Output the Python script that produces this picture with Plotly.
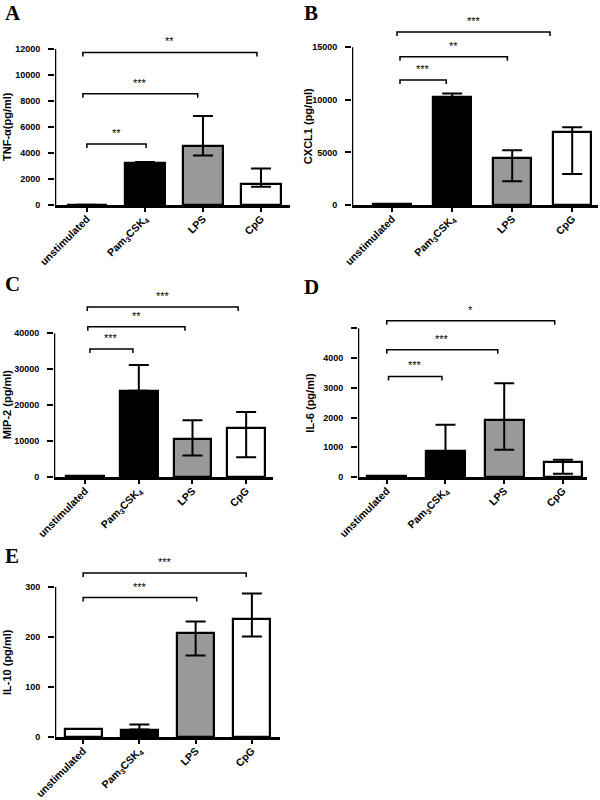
import plotly.graph_objects as go

# ---------------- data ----------------
categories = ["unstimulated", "Pam<sub>3</sub>CSK<sub>4</sub>", "LPS", "CpG"]
bar_colors = ["white", "black", "#999999", "white"]

# A: TNF-alpha
tnf_mean = [20, 3200, 4550, 1650]
tnf_upper = [20, 3300, 6850, 2800]
tnf_lower = [20, 3200, 3800, 1400]
tnf_ticks = [0, 2000, 4000, 6000, 8000, 10000, 12000]
tnf_sig = [(0.0, 1.02, 4690, "**"), (-0.07, 1.91, 8560, "***"), (-0.07, 2.93, 11740, "**")]

# B: CXCL1
cxcl1_mean = [90, 10250, 4500, 6950]
cxcl1_upper = [90, 10600, 5200, 7400]
cxcl1_lower = [90, 10250, 2250, 2950]
cxcl1_ticks = [0, 5000, 10000, 15000]
cxcl1_sig = [(0.13, 0.9, 11890, "***"), (0.13, 1.92, 14100, "**"), (0.08, 2.63, 16460, "***")]

# C: MIP-2
mip2_mean = [150, 24000, 10600, 13600]
mip2_upper = [150, 31200, 15800, 18100]
mip2_lower = [150, 24000, 6000, 5500]
mip2_ticks = [0, 10000, 20000, 30000, 40000]
mip2_sig = [(0.09, 0.89, 35600, "***"), (0.05, 1.86, 41800, "**"), (0.04, 2.85, 47300, "***")]

# D: IL-6
il6_mean = [25, 860, 1900, 500]
il6_upper = [25, 1760, 3150, 580]
il6_lower = [25, 860, 920, 110]
il6_ticks = [0, 1000, 2000, 3000, 4000, 5000]
il6_ticklabels = ["0", "1000", "2000", "3000", "4000", ""]
il6_sig = [(0.03, 0.94, 3380, "***"), (0.0, 1.89, 4280, "***"), (0.0, 2.86, 5250, "*")]

# E: IL-10
il10_mean = [16, 15, 208, 236]
il10_upper = [16, 25, 231, 287]
il10_lower = [16, 15, 163, 201]
il10_ticks = [0, 100, 200, 300]
il10_sig = [(0.0, 2.02, 279, "***"), (0.0, 2.9, 328, "***")]

# ---------------- layout per panel ----------------
panels = [
    dict(letter="A", ytitle="TNF-α(pg/ml)", mean=tnf_mean, up=tnf_upper, lo=tnf_lower,
         ticks=tnf_ticks, ticktext=[str(t) for t in tnf_ticks], sig=tnf_sig,
         left=55, right=290, zero=205, top=28, ppu=156 / 12000, xr=[-0.55, 3.5], bw=0.70,
         tx=7, lx=3, ly=-1),
    dict(letter="B", ytitle="CXCL1 (pg/ml)", mean=cxcl1_mean, up=cxcl1_upper, lo=cxcl1_lower,
         ticks=cxcl1_ticks, ticktext=[str(t) for t in cxcl1_ticks], sig=cxcl1_sig,
         left=352, right=598, zero=205, top=22, ppu=157.7 / 15000, xr=[-0.67, 3.43], bw=0.64,
         tx=308, lx=302, ly=-1),
    dict(letter="C", ytitle="MIP-2 (pg/ml)", mean=mip2_mean, up=mip2_upper, lo=mip2_lower,
         ticks=mip2_ticks, ticktext=[str(t) for t in mip2_ticks], sig=mip2_sig,
         left=54, right=273, zero=477, top=285, ppu=143.7 / 40000, xr=[-0.58, 3.5], bw=0.70,
         tx=7, lx=3, ly=270),
    dict(letter="D", ytitle="IL-6 (pg/ml)", mean=il6_mean, up=il6_upper, lo=il6_lower,
         ticks=il6_ticks, ticktext=il6_ticklabels, sig=il6_sig,
         left=358, right=587, zero=477, top=300, ppu=119 / 4000, xr=[-0.49, 3.41], bw=0.66,
         tx=310, lx=302, ly=273),
    dict(letter="E", ytitle="IL-10 (pg/ml)", mean=il10_mean, up=il10_upper, lo=il10_lower,
         ticks=il10_ticks, ticktext=[str(t) for t in il10_ticks], sig=il10_sig,
         left=55, right=280, zero=737, top=555, ppu=150 / 300, xr=[-0.5, 3.5], bw=0.66,
         tx=7, lx=3, ly=542),
]

W, H = 600, 800
FONT = "Liberation Sans"
fig = go.Figure()
annotations = []

for i, p in enumerate(panels, start=1):
    xa = "x" if i == 1 else f"x{i}"
    ya = "y" if i == 1 else f"y{i}"
    ymax = (p["zero"] - p["top"]) / p["ppu"]
    err_plus = [u - m for u, m in zip(p["up"], p["mean"])]
    err_minus = [m - l for m, l in zip(p["mean"], p["lo"])]
    fig.add_trace(go.Bar(
        x=list(range(len(categories))), y=p["mean"], xaxis=xa, yaxis=ya,
        width=p["bw"],
        marker=dict(color=bar_colors, line=dict(color="black", width=2.2)),
        error_y=dict(type="data", symmetric=False, array=err_plus, arrayminus=err_minus,
                     color="black", thickness=2, width=10),
        showlegend=False, hoverinfo="skip",
    ))
    # y axis line (only up to last tick)
    fig.add_trace(go.Scatter(
        x=[p["xr"][0], p["xr"][0]], y=[0, p["ticks"][-1]], xaxis=xa, yaxis=ya,
        mode="lines", line=dict(color="black", width=2.5), cliponaxis=False,
        showlegend=False, hoverinfo="skip",
    ))
    drop = 4 / p["ppu"]
    for (x0, x1, yb, stars) in p["sig"]:
        fig.add_trace(go.Scatter(
            x=[x0, x0, x1, x1], y=[yb - drop, yb, yb, yb - drop], xaxis=xa, yaxis=ya,
            mode="lines", line=dict(color="black", width=1.5), cliponaxis=False,
            showlegend=False, hoverinfo="skip",
        ))
        annotations.append(dict(
            x=(x0 + x1) / 2, y=yb, xref=xa, yref=ya, text=stars, showarrow=False,
            yanchor="middle", yshift=11, font=dict(family=FONT, size=11, color="black"),
        ))
    # y-axis title
    y_mid_px = p["zero"] - p["ticks"][-1] * p["ppu"] / 2
    annotations.append(dict(
        x=p["tx"] / W, xref="paper", y=1 - y_mid_px / H, yref="paper", text=p["ytitle"],
        textangle=-90, showarrow=False, xanchor="center", yanchor="middle",
        font=dict(family=FONT, size=11, color="black", weight="bold"),
    ))
    # panel letter
    annotations.append(dict(
        x=p["lx"] / W, y=1 - p["ly"] / H, xref="paper", yref="paper", text=p["letter"],
        showarrow=False, xanchor="left", yanchor="top",
        font=dict(family="Liberation Serif", size=21, color="black", weight="bold"),
    ))
    fig.update_layout({
        ("xaxis" if i == 1 else f"xaxis{i}"): dict(
            domain=[p["left"] / W, p["right"] / W], anchor=ya, range=p["xr"],
            tickmode="array", tickvals=list(range(len(categories))), ticktext=categories,
            tickangle=-45, ticks="outside", ticklen=4, tickwidth=2, tickcolor="black",
            showline=True, linewidth=2.5, linecolor="black", showgrid=False, zeroline=False,
            tickfont=dict(family=FONT, size=10.5, color="black", weight="bold"),
            ticklabelstandoff=-3, fixedrange=True, automargin=False,
        ),
        ("yaxis" if i == 1 else f"yaxis{i}"): dict(
            domain=[1 - p["zero"] / H, 1 - p["top"] / H], anchor=xa, range=[0, ymax],
            tickmode="array", tickvals=p["ticks"], ticktext=p["ticktext"],
            ticks="outside", ticklen=6, tickwidth=2, tickcolor="black",
            showline=False, showgrid=False, zeroline=False,
            tickfont=dict(family=FONT, size=9, color="black", weight="bold"),
            ticklabelstandoff=6, fixedrange=True, automargin=False,
        ),
    })

fig.update_layout(
    width=W, height=H, margin=dict(l=0, r=0, t=0, b=0, autoexpand=False),
    paper_bgcolor="white", plot_bgcolor="white",
    annotations=annotations, bargap=0,
)

fig.write_html(
    "out.html",
    config={"displayModeBar": False},
    post_script="document.body.style.margin='0';document.body.style.padding='0';",
)
